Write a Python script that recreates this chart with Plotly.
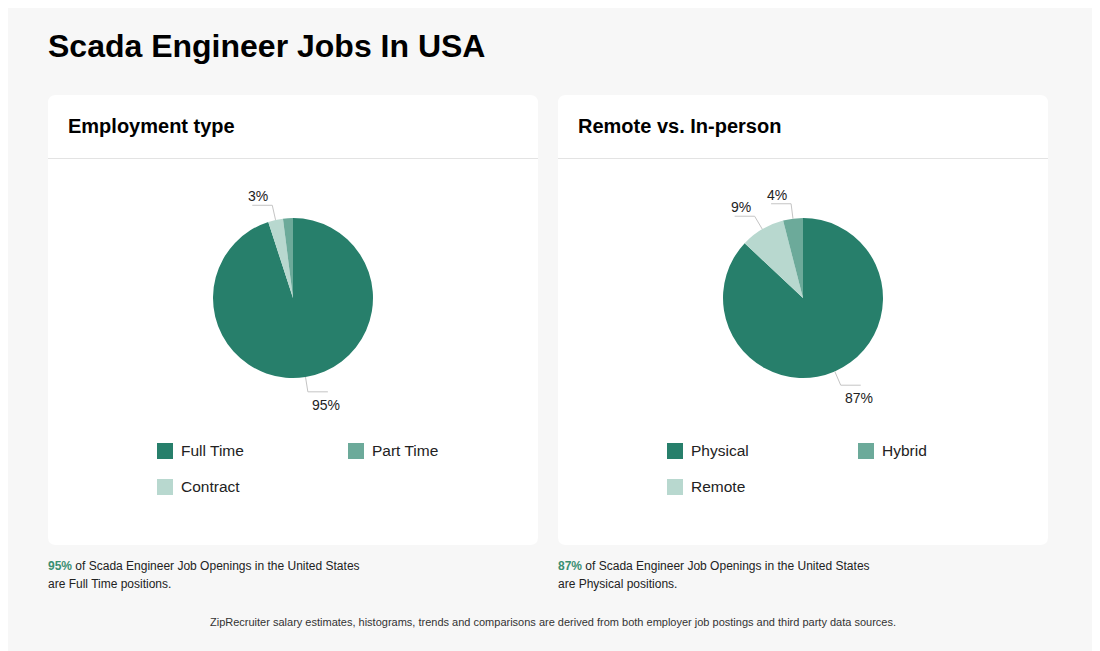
import math
import plotly.graph_objects as go

W, H = 1100, 651
OFF = 8  # page offset of the figure in the browser

# ---------------- data ----------------
title_text = "Scada Engineer Jobs In USA"

emp_title = "Employment type"
emp_labels = ["Full Time", "Contract", "Part Time"]
emp_values = [95, 3, 2]
emp_text = ["95%", "3%", ""]

rem_title = "Remote vs. In-person"
rem_labels = ["Physical", "Remote", "Hybrid"]
rem_values = [87, 9, 4]
rem_text = ["87%", "9%", "4%"]

colors = ["#277f6b", "#b8d8cf", "#6caa9a"]

emp_note = ("95%", "of Scada Engineer Job Openings in the United States", "are Full Time positions.")
rem_note = ("87%", "of Scada Engineer Job Openings in the United States", "are Physical positions.")
footer = "ZipRecruiter salary estimates, histograms, trends and comparisons are derived from both employer job postings and third party data sources."

FONT = "Liberation Sans, Arial, sans-serif"
TPAD = 2  # annotation inner padding compensation

fig = go.Figure()
# invisible trace so the pixel-space cartesian axes exist
fig.add_trace(go.Scatter(x=[None], y=[None], showlegend=False, hoverinfo="skip"))

shapes = []
annotations = []


def rrect(x0, y0, x1, y1, r):
    return (f"M {x0+r},{y0} L {x1-r},{y0} Q {x1},{y0} {x1},{y0+r} "
            f"L {x1},{y1-r} Q {x1},{y1} {x1-r},{y1} L {x0+r},{y1} "
            f"Q {x0},{y1} {x0},{y1-r} L {x0},{y0+r} Q {x0},{y0} {x0+r},{y0} Z")


annotations.append(dict(x=48 - TPAD, y=46, xref="x", yref="y", text=f"<b>{title_text}</b>",
                        showarrow=False, xanchor="left", yanchor="middle",
                        font=dict(family=FONT, size=32, color="#000")))


def panel(x0, ptitle, labels, values, texts, note):
    cx, cy, r = x0 + 245, 298, 80
    # card
    shapes.append(dict(type="path", xref="x", yref="y", path=rrect(x0, 95, x0 + 490, 545, 8),
                       fillcolor="#ffffff", line=dict(width=0), layer="below"))
    shapes.append(dict(type="line", xref="x", yref="y", x0=x0, x1=x0 + 490, y0=158.5, y1=158.5,
                       line=dict(color="#e3e3e3", width=1), layer="below"))
    annotations.append(dict(x=x0 + 20 - TPAD, y=126, xref="x", yref="y", text=f"<b>{ptitle}</b>",
                            showarrow=False, xanchor="left", yanchor="middle",
                            font=dict(family=FONT, size=20, color="#000")))
    # pie
    fig.add_trace(go.Pie(labels=labels, values=values, sort=False, direction="clockwise",
                         rotation=0, marker=dict(colors=colors, line=dict(width=0)),
                         textinfo="none", showlegend=False, automargin=False,
                         hovertemplate="%{label}: %{value}%<extra></extra>",
                         domain=dict(x=[(cx - r - OFF) / W, (cx + r - OFF) / W],
                                     y=[1 - (cy + r - OFF) / H, 1 - (cy - r - OFF) / H])))
    # outside labels with leader lines
    total = sum(values)
    cum = 0
    for v, t in zip(values, texts):
        mid = (cum + v / 2) / total * 2 * math.pi
        cum += v
        if not t:
            continue
        sx, sy = math.sin(mid), -math.cos(mid)
        ex, ey = cx + r * sx, cy + r * sy
        ox, oy = cx + (r + 15) * sx, cy + (r + 15) * sy
        side = 1 if sx >= 0 else -1
        hx = ox + 20 * side
        shapes.append(dict(type="path", xref="x", yref="y",
                           path=f"M {ex},{ey} L {ox},{oy} L {hx},{oy}",
                           line=dict(color="#c4c4c4", width=1)))
        lx = hx - 2 if side > 0 else hx + 6
        ly = oy + 13 if sy > 0 else oy - 9
        annotations.append(dict(x=lx, y=ly, xref="x", yref="y", text=t, showarrow=False,
                                xanchor="center", yanchor="middle",
                                font=dict(family=FONT, size=14, color="#222")))
    # legend (column-major, 2 rows)
    for i, (lab, col) in enumerate(zip(labels, colors)):
        c, rw = i // 2, i % 2
        sxp = x0 + 109 + c * 191
        syp = 443 + rw * 36
        shapes.append(dict(type="rect", xref="x", yref="y", x0=sxp, x1=sxp + 16, y0=syp, y1=syp + 16,
                           fillcolor=col, line=dict(width=0)))
        annotations.append(dict(x=sxp + 24 - TPAD, y=syp + 7.5, xref="x", yref="y", text=lab,
                                showarrow=False, xanchor="left", yanchor="middle",
                                font=dict(family=FONT, size=15.5, color="#222")))
    # note
    annotations.append(dict(x=x0 - TPAD, y=565.5, xref="x", yref="y",
                            text=f"<b><span style='color:#3a8f72'>{note[0]}</span></b> {note[1]}",
                            showarrow=False, xanchor="left", yanchor="middle",
                            font=dict(family=FONT, size=12, color="#222")))
    annotations.append(dict(x=x0 - TPAD, y=583.5, xref="x", yref="y", text=note[2],
                            showarrow=False, xanchor="left", yanchor="middle",
                            font=dict(family=FONT, size=12, color="#222")))


panel(48, emp_title, emp_labels, emp_values, emp_text, emp_note)
panel(558, rem_title, rem_labels, rem_values, rem_text, rem_note)

annotations.append(dict(x=553, y=622, xref="x", yref="y", text=footer, showarrow=False,
                        xanchor="center", yanchor="middle",
                        font=dict(family=FONT, size=11, color="#333")))

fig.update_layout(
    width=W, height=H, margin=dict(l=0, r=0, t=0, b=0),
    paper_bgcolor="#f7f7f7", plot_bgcolor="rgba(0,0,0,0)",
    xaxis=dict(range=[OFF, W + OFF], visible=False, fixedrange=True),
    yaxis=dict(range=[H + OFF, OFF], visible=False, fixedrange=True),
    shapes=shapes, annotations=annotations, showlegend=False,
    font=dict(family=FONT),
)

fig.write_html("out.html", config={"displayModeBar": False})
